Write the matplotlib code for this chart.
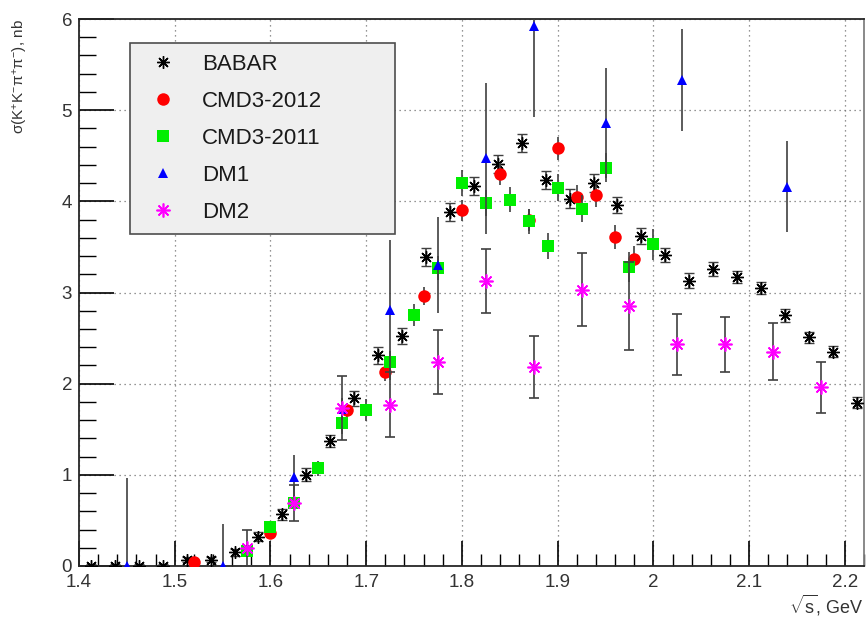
import numpy as np
import matplotlib
matplotlib.use('Agg')
import matplotlib.pyplot as plt
from matplotlib.ticker import MultipleLocator
from matplotlib.lines import Line2D

plt.rcParams['font.family'] = ['Liberation Sans', 'DejaVu Sans']
plt.rcParams['mathtext.fontset'] = 'custom'
plt.rcParams['mathtext.rm'] = 'Liberation Sans'
plt.rcParams['mathtext.it'] = 'Liberation Sans:italic'

# BABAR
babar_x = [1.4125, 1.4375, 1.4625, 1.4875, 1.5125, 1.5375, 1.5625, 1.5875, 1.6125,
           1.6375, 1.6625, 1.6875, 1.7125, 1.7375, 1.7625, 1.7875, 1.8125, 1.8375,
           1.8625, 1.8875, 1.9125, 1.9375, 1.9625, 1.9875, 2.0125, 2.0375, 2.0625,
           2.0875, 2.1125, 2.1375, 2.1625, 2.1875, 2.2125]
babar_y = [0.0, 0.0, 0.0, 0.0, 0.07, 0.07, 0.15, 0.32, 0.57,
           1.0, 1.37, 1.84, 2.31, 2.52, 3.39, 3.88, 4.17, 4.41,
           4.64, 4.23, 4.03, 4.2, 3.96, 3.62, 3.41, 3.13, 3.26,
           3.17, 3.05, 2.75, 2.51, 2.35, 1.79]
babar_err = [0.02, 0.02, 0.02, 0.02, 0.03, 0.03, 0.04, 0.05, 0.06,
             0.07, 0.07, 0.08, 0.09, 0.09, 0.1, 0.1, 0.1, 0.1,
             0.1, 0.1, 0.1, 0.1, 0.09, 0.09, 0.08, 0.08, 0.08,
             0.07, 0.07, 0.07, 0.06, 0.06, 0.06]

# CMD3-2012
cmd12_x = [1.52, 1.60, 1.68, 1.72, 1.76, 1.80, 1.84, 1.87, 1.90, 1.92, 1.94, 1.96, 1.98]
cmd12_y = [0.04, 0.36, 1.71, 2.13, 2.96, 3.90, 4.30, 3.80, 4.58, 4.05, 4.07, 3.61, 3.37]
cmd12_err = [0.03, 0.05, 0.08, 0.1, 0.1, 0.12, 0.12, 0.12, 0.13, 0.13, 0.13, 0.13, 0.14]

# CMD3-2011
cmd11_x = [1.575, 1.60, 1.625, 1.65, 1.675, 1.70, 1.725, 1.75, 1.775, 1.80,
           1.825, 1.85, 1.87, 1.89, 1.90, 1.925, 1.95, 1.975, 2.0]
cmd11_y = [0.17, 0.43, 0.69, 1.07, 1.57, 1.71, 2.24, 2.75, 3.27, 4.20,
           3.98, 4.02, 3.78, 3.51, 4.15, 3.92, 4.37, 3.28, 3.53]
cmd11_err = [0.05, 0.05, 0.07, 0.08, 0.12, 0.12, 0.12, 0.12, 0.13, 0.14,
             0.14, 0.14, 0.14, 0.14, 0.15, 0.15, 0.16, 0.16, 0.17]

# DM1
dm1_x = [1.45, 1.55, 1.625, 1.675, 1.725, 1.775, 1.825, 1.875, 1.95, 2.03, 2.14]
dm1_y = [0.0, 0.0, 0.98, 1.72, 2.81, 3.30, 4.47, 5.92, 4.86, 5.33, 4.16]
dm1_err = [0.96, 0.46, 0.24, 0.12, 0.77, 0.53, 0.83, 1.0, 0.6, 0.56, 0.5]

# DM2
dm2_x = [1.575, 1.625, 1.675, 1.725, 1.775, 1.825, 1.875, 1.925, 1.975, 2.025, 2.075, 2.125, 2.175]
dm2_y = [0.20, 0.69, 1.73, 1.77, 2.24, 3.13, 2.18, 3.03, 2.85, 2.43, 2.43, 2.35, 1.96]
dm2_err = [0.2, 0.2, 0.35, 0.36, 0.35, 0.35, 0.34, 0.4, 0.48, 0.33, 0.3, 0.31, 0.28]

fig = plt.figure(figsize=(8.66, 6.18), dpi=100)
ax = fig.add_axes([79 / 866, 52 / 618, 785 / 866, 547 / 618])

eb = dict(ecolor='0.25', elinewidth=1.2, capsize=3.5, capthick=1.2, linestyle='none')
asterisk = (8, 2, 0)

series = [
    (babar_x, babar_y, babar_err, asterisk, 'black', 9, 1.0, 'BABAR'),
    (cmd12_x, cmd12_y, cmd12_err, 'o', '#ff0000', 9, 0, 'CMD3-2012'),
    (cmd11_x, cmd11_y, cmd11_err, 's', '#00ee00', 8.5, 0, 'CMD3-2011'),
    (dm1_x, dm1_y, dm1_err, '^', '#0000ff', 7.5, 0, 'DM1'),
    (dm2_x, dm2_y, dm2_err, asterisk, '#ff00ff', 10, 1.2, 'DM2'),
]

handles = []
for i, (x, y, e, m, c, ms, mew, lab) in enumerate(series):
    ax.errorbar(x, y, yerr=e, marker=m, color=c, ms=ms, mew=mew, zorder=3 + i, **eb)
    handles.append(Line2D([], [], marker=m, color=c, ms=ms, mew=mew, linestyle='none', label=lab))

ax.set_xlim(1.4, 2.22)
ax.set_ylim(0, 6)
ax.xaxis.set_minor_locator(MultipleLocator(0.02))
ax.yaxis.set_major_locator(MultipleLocator(1))
ax.yaxis.set_minor_locator(MultipleLocator(0.2))
ax.set_xticks(np.arange(1.4, 2.21, 0.1))
ax.set_xticklabels(['1.4', '1.5', '1.6', '1.7', '1.8', '1.9', '2', '2.1', '2.2'])
ax.tick_params(axis='x', which='major', direction='in', length=18, width=1.2,
               labelsize=13.5, pad=6, colors='black', labelcolor='0.2')
ax.tick_params(axis='x', which='minor', direction='in', length=9, width=1.0)
ax.tick_params(axis='y', which='major', direction='in', length=25, width=1.2,
               labelsize=13.5, pad=5, labelcolor='0.2')
ax.tick_params(axis='y', which='minor', direction='in', length=12, width=1.0)
ax.grid(True, which='major', linestyle=(0, (1, 3)), color='0.45', linewidth=0.9)

for s in ax.spines.values():
    s.set_linewidth(1.3)
    s.set_color('0.15')
ax.spines['right'].set_color('0.5')

ax.set_ylabel(r'$\mathregular{\sigma(K^{+}K^{-}\pi^{+}\pi^{-})}$, nb', fontsize=11,
              loc='top', color='0.2')
ax.yaxis.set_label_coords(-0.062, 1.0)
ax.set_xlabel(r'$\sqrt{\mathregular{s}}$, GeV', fontsize=13, loc='right', color='0.2')
ax.xaxis.set_label_coords(1.0, -0.05)

leg = ax.legend(handles=handles, loc='upper left', bbox_to_anchor=(0.065, 0.956, 0.3375, 0.0),
                mode='expand', fontsize=16, frameon=True, fancybox=False,
                edgecolor='0.3', facecolor='#efefef', framealpha=1.0,
                labelspacing=0.72, borderpad=0.5, handletextpad=0.75,
                handlelength=2.0, borderaxespad=0)
leg.get_frame().set_linewidth(1.2)
for t in leg.get_texts():
    t.set_color('0.1')

fig.savefig('out.png', dpi=100)
